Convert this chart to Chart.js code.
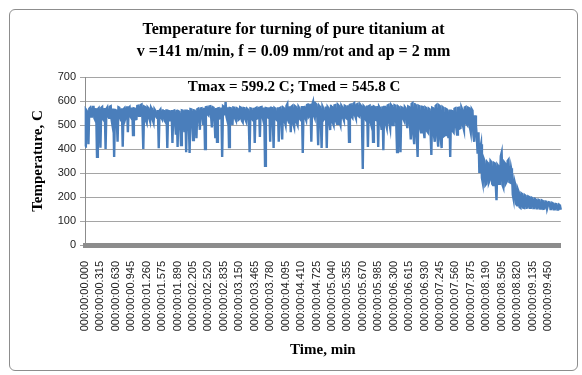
<!DOCTYPE html>
<html>
<head>
<meta charset="utf-8">
<script src="https://cdn.jsdelivr.net/npm/chart.js@4"></script>
<style>
  body { margin: 0; background: #fff; }
  #wrap { position: relative; width: 582px; height: 375px; }
  #frame {
    position: absolute; left: 9px; top: 9px; width: 567px; height: 360px;
    border: 1px solid #8d8d8d; border-radius: 6px; background: #fff;
  }
  #chart { position: absolute; left: 0; top: 0; }
</style>
</head>
<body>
<div id="wrap">
  <div id="frame"></div>
  <canvas id="chart" width="582" height="375"></canvas>
</div>
<script>
// tick labels shown on the time axis, one every 18 samples
const tickLabels = [
  '000:00:00.000', '000:00:00.315', '000:00:00.630', '000:00:00.945', '000:00:01.260',
  '000:00:01.575', '000:00:01.890', '000:00:02.205', '000:00:02.520', '000:00:02.835',
  '000:00:03.150', '000:00:03.465', '000:00:03.780', '000:00:04.095', '000:00:04.410',
  '000:00:04.725', '000:00:05.040', '000:00:05.355', '000:00:05.670', '000:00:05.985',
  '000:00:06.300', '000:00:06.615', '000:00:06.930', '000:00:07.245', '000:00:07.560',
  '000:00:07.875', '000:00:08.190', '000:00:08.505', '000:00:08.820', '000:00:09.135',
  '000:00:09.450'
];
const samplesPerLabel = 18;

// temperature readings, C
const temperature = [
  410, 565, 560, 530, 420, 568, 572, 535, 540, 575, 575, 528, 520, 570, 368, 566, 570, 532, 405, 572,
  575, 525, 520, 571, 400, 567, 573, 538, 530, 576, 578, 522, 500, 569, 367, 563, 565, 530, 430, 574,
  572, 534, 520, 570, 410, 566, 570, 527, 540, 578, 470, 571, 575, 536, 530, 573, 458, 569, 568, 524,
  525, 579, 580, 538, 540, 583, 585, 530, 400, 577, 575, 520, 510, 574, 570, 528, 515, 572, 565, 522,
  510, 566, 560, 535, 530, 563, 403, 560, 565, 532, 525, 561, 562, 518, 512, 565, 404, 559, 558, 520,
  520, 562, 425, 558, 560, 515, 460, 563, 408, 557, 555, 512, 416, 561, 560, 520, 470, 564, 387, 560,
  562, 525, 383, 566, 565, 518, 437, 561, 560, 527, 445, 566, 568, 530, 480, 569, 570, 535, 500, 572,
  400, 574, 575, 545, 541, 577, 578, 540, 490, 574, 572, 530, 445, 571, 430, 569, 570, 528, 530, 573,
  367, 578, 575, 540, 596, 535, 520, 574, 408, 571, 570, 525, 500, 573, 572, 528, 520, 570, 568, 522,
  525, 574, 572, 518, 512, 571, 570, 524, 515, 568, 565, 520, 387, 569, 568, 526, 520, 572, 425, 570,
  572, 528, 530, 576, 450, 574, 575, 535, 520, 573, 330, 571, 570, 532, 530, 574, 430, 572, 575, 530,
  404, 571, 568, 525, 520, 574, 430, 570, 572, 528, 440, 573, 570, 515, 500, 580, 587, 520, 510, 578,
  470, 577, 580, 505, 492, 578, 575, 510, 500, 576, 570, 525, 520, 579, 383, 574, 575, 530, 520, 582,
  590, 535, 540, 588, 430, 585, 596, 540, 530, 589, 585, 528, 416, 580, 575, 522, 404, 578, 570, 525,
  530, 577, 404, 575, 570, 515, 479, 579, 578, 510, 500, 582, 583, 515, 505, 584, 580, 512, 500, 581,
  575, 530, 520, 580, 578, 528, 525, 582, 430, 584, 585, 535, 530, 588, 591, 540, 529, 586, 588, 538,
  535, 585, 580, 532, 317, 579, 575, 526, 520, 581, 408, 578, 580, 515, 500, 580, 430, 577, 575, 522,
  520, 579, 408, 576, 570, 512, 480, 578, 395, 575, 575, 505, 490, 581, 583, 508, 487, 583, 578, 500,
  500, 582, 580, 515, 387, 578, 575, 520, 387, 574, 572, 528, 520, 575, 570, 510, 487, 577, 575, 505,
  440, 588, 591, 460, 420, 586, 585, 450, 367, 580, 578, 490, 470, 576, 575, 480, 445, 573, 570, 475,
  470, 568, 565, 480, 375, 572, 570, 460, 430, 580, 583, 450, 410, 581, 578, 440, 404, 575, 572, 455,
  458, 567, 565, 470, 445, 564, 367, 560, 562, 475, 470, 568, 570, 490, 460, 571, 572, 485, 487, 574,
  565, 495, 480, 573, 575, 505, 500, 572, 570, 490, 470, 566, 560, 460, 430, 540, 500, 450, 380, 470,
  300, 400, 420, 280, 260, 360, 350, 250, 255, 345, 340, 260, 270, 350, 345, 255, 250, 342, 340, 262,
  187, 335, 330, 255, 260, 370, 385, 250, 240, 345, 340, 258, 265, 350, 355, 262, 260, 320, 300, 210,
  190, 265, 250, 170, 165, 230, 220, 158, 155, 215, 212, 156, 155, 208, 205, 155, 156, 202, 200, 155,
  155, 197, 195, 154, 154, 192, 190, 153, 153, 188, 186, 152, 152, 185, 183, 151, 152, 181, 180, 151,
  151, 178, 177, 150, 150, 175, 173, 149, 149, 171, 170, 148, 148, 168, 165, 147
];

const titleLines = ['Temperature for turning of pure titanium at', 'v =141 m/min, f = 0.09 mm/rot and ap = 2 mm'];
const noteText = 'Tmax = 599.2 C; Tmed = 545.8 C';

const labels = temperature.map((v, i) => (i % samplesPerLabel === 0 ? (tickLabels[i / samplesPerLabel] || '') : ''));

const serif = '"Liberation Serif", "Times New Roman", serif';
const sans = '"Liberation Sans", Arial, sans-serif';

// text box inside the plot area
const notePlugin = {
  id: 'note',
  afterDraw(chart) {
    const ctx = chart.ctx;
    ctx.save();
    ctx.font = 'bold 15px ' + serif;
    ctx.fillStyle = '#000';
    ctx.textAlign = 'center';
    ctx.textBaseline = 'middle';
    ctx.fillText(noteText, 294, chart.chartArea.top + 10);
    ctx.restore();
  }
};

const ctx = document.getElementById('chart').getContext('2d');
new Chart(ctx, {
  type: 'line',
  data: {
    labels: labels,
    datasets: [{
      data: temperature,
      borderColor: '#4a7ebb',
      borderWidth: 2.4,
      pointRadius: 0,
      tension: 0,
      fill: false
    }]
  },
  options: {
    responsive: false,
    animation: false,
    layout: { padding: { left: 20, right: 15, top: 0, bottom: 10 } },
    plugins: {
      legend: { display: false },
      tooltip: { enabled: false },
      title: {
        display: true,
        text: titleLines,
        color: '#000',
        font: { family: serif, size: 16, weight: 'bold', lineHeight: 1.375 },
        padding: { top: 19, bottom: 14 }
      }
    },
    scales: {
      x: {
        afterFit: (scale) => { scale.height = 120; },
        grid: { display: false },
        border: { display: true, color: '#8c8c8c', width: 5 },
        ticks: {
          autoSkip: false,
          maxRotation: 90,
          minRotation: 90,
          padding: 8,
          color: '#222',
          font: { family: sans, size: 11 }
        },
        title: {
          display: true,
          text: 'Time, min',
          color: '#000',
          font: { family: serif, size: 15, weight: 'bold' },
          padding: { top: 4, bottom: 6 }
        }
      },
      y: {
        min: 0,
        max: 700,
        afterFit: (scale) => { scale.width = 65; },
        grid: { color: '#a5a5a5', tickLength: 5 },
        border: { display: true, color: '#8c8c8c', width: 1 },
        ticks: {
          stepSize: 100,
          padding: 4,
          color: '#222',
          font: { family: sans, size: 11 }
        },
        title: {
          display: true,
          text: 'Temperature, C',
          color: '#000',
          font: { family: serif, size: 15, weight: 'bold' },
          padding: { top: 9, bottom: 4 }
        }
      }
    }
  },
  plugins: [notePlugin]
});
</script>
</body>
</html>
